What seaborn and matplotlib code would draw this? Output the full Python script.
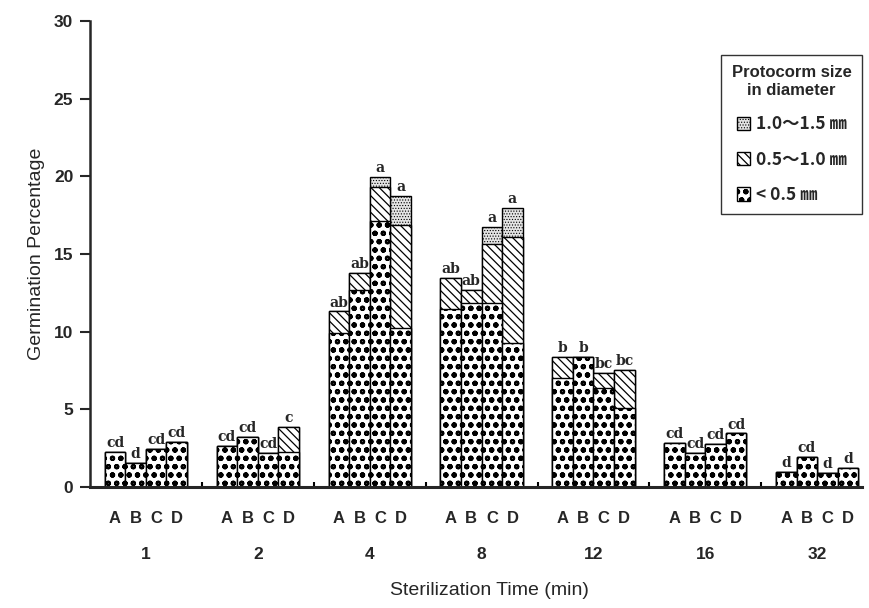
import numpy as np
import pandas as pd
import matplotlib
matplotlib.use('Agg')
import matplotlib.pyplot as plt
import matplotlib.patches as mpatches
import seaborn as sns

# sterilization times and seed treatments
times = ['1', '2', '4', '8', '12', '16', '32']
treatments = ['A', 'B', 'C', 'D']

# germination % by protocorm size class, rows = time, cols = A..D
small = [[2.27, 1.57, 2.43, 2.92],
         [2.64, 3.24, 2.17, 2.27],
         [9.94, 12.70, 17.15, 10.26],
         [11.45, 11.83, 11.87, 9.25],
         [7.00, 8.40, 6.35, 5.07],
         [2.81, 2.21, 2.77, 3.45],
         [0.97, 1.91, 0.88, 1.24]]
medium = [[0, 0, 0, 0],
          [0, 0, 0, 1.61],
          [1.36, 1.10, 2.15, 6.61],
          [1.99, 0.85, 3.78, 6.87],
          [1.39, 0, 1.01, 2.46],
          [0, 0, 0, 0],
          [0, 0, 0, 0]]
large = [[0, 0, 0, 0],
         [0, 0, 0, 0],
         [0, 0, 0.64, 1.87],
         [0, 0, 1.11, 1.82],
         [0, 0, 0, 0],
         [0, 0, 0, 0],
         [0, 0, 0, 0]]
letters = [['cd', 'd', 'cd', 'cd'],
           ['cd', 'cd', 'cd', 'c'],
           ['ab', 'ab', 'a', 'a'],
           ['ab', 'ab', 'a', 'a'],
           ['b', 'b', 'bc', 'bc'],
           ['cd', 'cd', 'cd', 'cd'],
           ['d', 'cd', 'd', 'd']]

rows = []
for i, t in enumerate(times):
    for j, tr in enumerate(treatments):
        rows.append({'time': t, 'trt': tr, 'small': small[i][j],
                     'mid': small[i][j] + medium[i][j],
                     'total': small[i][j] + medium[i][j] + large[i][j],
                     'letter': letters[i][j]})
df = pd.DataFrame(rows)

sns.set_style('ticks')
plt.rcParams['font.family'] = ['Liberation Sans', 'DejaVu Sans']

fig = plt.figure(figsize=(8.7, 6.08), dpi=100)
ax = fig.add_axes([0.1034, 0.199, 0.8874, 0.7665])

# (column, face colour, hatch, hatch linewidth)
styles = [('total', '#e4e4e4', '......', 0.5),
          ('mid', 'white', '\\\\\\\\', 0.9),
          ('small', 'white', 'oo', 1.5)]


def style_hatch(p, hatch, hlw):
    p.set_hatch(hatch)
    if hasattr(p, 'set_hatch_linewidth'):
        p.set_hatch_linewidth(hlw)


width = 0.735
for col, fc, hatch, hlw in styles:
    plt.rcParams['hatch.linewidth'] = hlw
    n0 = len(ax.patches)
    sns.barplot(data=df, x='time', y=col, hue='trt', order=times, hue_order=treatments,
                palette=[fc] * 4, saturation=1, width=width, gap=0, dodge=True,
                errorbar=None, edgecolor='black', linewidth=1.0, legend=False, ax=ax)
    for p in ax.patches[n0:]:
        style_hatch(p, hatch, hlw)

offsets = (np.arange(4) - 1.5) * width / 4
for i in range(len(times)):
    for j in range(4):
        r = df.iloc[i * 4 + j]
        ax.text(i + offsets[j], r['total'] + 0.12, r['letter'], ha='center', va='bottom',
                family='DejaVu Serif', fontweight='bold', fontsize=10)

ax.set_ylim(0, 30)
ax.set_xlim(-0.5, 6.4)
ax.set_yticks(range(0, 31, 5))
ax.tick_params(axis='y', direction='out', length=7, width=1.5, labelsize=12.5, pad=5)
for lab in ax.get_yticklabels():
    lab.set_fontweight('bold')

ax.set_xticks(range(len(times)))
ax.set_xticklabels(times, fontsize=12.5, fontweight='bold')
ax.tick_params(axis='x', which='major', length=0, pad=43)
minor_pos = [i + o for i in range(len(times)) for o in offsets]
ax.set_xticks(minor_pos, minor=True)
ax.set_xticklabels(treatments * len(times), minor=True, fontsize=12, fontweight='bold')
ax.tick_params(axis='x', which='minor', length=0, pad=17)
ax.vlines(np.arange(len(times) - 1) + 0.5, 0, 0.35, color='black', lw=1.5)

ax.set_xlabel('Sterilization Time (min)', fontsize=14)
ax.xaxis.set_label_coords(0.518, -0.203)
ax.set_ylabel('Germination Percentage', fontsize=14)
ax.yaxis.set_label_coords(-0.058, 0.5)

sns.despine(ax=ax)
ax.spines['left'].set_linewidth(1.8)
ax.spines['bottom'].set_linewidth(2.2)

cjk = ['Noto Sans CJK JP', 'DejaVu Sans']
handles = []
for (col, fc, hatch, hlw), lab in zip(styles, ['1.0～1.5 ㎜', '0.5～1.0 ㎜', '< 0.5 ㎜']):
    h = mpatches.Patch(facecolor=fc, edgecolor='black', label=lab)
    style_hatch(h, hatch, hlw)
    handles.append(h)
leg = ax.legend(handles=handles, title='Protocorm size\nin diameter', loc='upper right',
                bbox_to_anchor=(1.0, 0.927), borderaxespad=0, frameon=True, fancybox=False,
                edgecolor='black', handlelength=0.8, handleheight=0.8, handletextpad=0.3,
                labelspacing=1.0, borderpad=0.6,
                prop={'family': cjk, 'size': 12.5, 'weight': 'bold'},
                title_fontproperties={'family': 'Liberation Sans', 'size': 12, 'weight': 'bold'})
for lp, (col, fc, hatch, hlw) in zip(leg.get_patches(), styles):
    style_hatch(lp, hatch, hlw)
leg.get_title().set_multialignment('center')
leg.get_frame().set_linewidth(1.0)

fig.savefig('out.png', dpi=100)
